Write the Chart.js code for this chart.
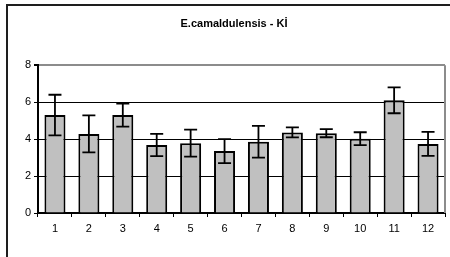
<!DOCTYPE html>
<html>
<head>
<meta charset="utf-8">
<script src="https://cdn.jsdelivr.net/npm/chart.js@4/dist/chart.umd.min.js"></script>
<style>
  html, body { margin: 0; padding: 0; background: #fff; overflow: hidden; }
  #wrap { position: relative; width: 450px; height: 257px; }
  #frame {
    position: absolute; left: 6px; top: 4px; width: 470px; height: 280px;
    border: 2px solid #1e1e1e; pointer-events: none;
  }
  canvas { position: absolute; left: 0; top: 0; }
</style>
</head>
<body>
<div id="wrap">
  <canvas id="grafico" width="450" height="257"></canvas>
  <div id="frame"></div>
</div>
<script>
// dados
const categorias = ['1', '2', '3', '4', '5', '6', '7', '8', '9', '10', '11', '12'];
const medias = [5.3, 4.28, 5.3, 3.68, 3.78, 3.35, 3.86, 4.36, 4.32, 4.02, 6.1, 3.74];
const erros = [1.1, 1.0, 0.62, 0.6, 0.73, 0.65, 0.86, 0.27, 0.22, 0.35, 0.7, 0.65];
const ticksY = [0, 2, 4, 6, 8];

const fonte = "'Liberation Sans', Arial, sans-serif";

// barras de erro desenhadas com a escala y
const barrasErro = {
    id: 'barrasErro',
    afterDatasetsDraw(chart) {
        const ctx = chart.ctx;
        const y = chart.scales.y;
        const meta = chart.getDatasetMeta(0);
        ctx.save();
        ctx.strokeStyle = '#000';
        ctx.lineWidth = 1.8;
        meta.data.forEach((bar, i) => {
            const topo = y.getPixelForValue(medias[i] + erros[i]);
            const base = y.getPixelForValue(medias[i] - erros[i]);
            ctx.beginPath();
            ctx.moveTo(bar.x, topo);
            ctx.lineTo(bar.x, base);
            ctx.moveTo(bar.x - 6.5, topo);
            ctx.lineTo(bar.x + 6.5, topo);
            ctx.moveTo(bar.x - 6.5, base);
            ctx.lineTo(bar.x + 6.5, base);
            ctx.stroke();
        });
        ctx.restore();
    }
};

// borda direita cinzenta da área do gráfico
const bordaDireita = {
    id: 'bordaDireita',
    afterDraw(chart) {
        const a = chart.chartArea;
        const ctx = chart.ctx;
        ctx.save();
        ctx.strokeStyle = '#8c8c8c';
        ctx.lineWidth = 2;
        ctx.beginPath();
        ctx.moveTo(a.right, a.top);
        ctx.lineTo(a.right, a.bottom);
        ctx.stroke();
        ctx.restore();
    }
};

new Chart(document.getElementById('grafico'), {
    type: 'bar',
    data: {
        labels: categorias,
        datasets: [{
            data: medias,
            backgroundColor: '#c0c0c0',
            borderColor: '#000',
            borderWidth: 2,
            barPercentage: 0.62,
            categoryPercentage: 1
        }]
    },
    options: {
        responsive: false,
        animation: false,
        devicePixelRatio: 1,
        layout: { padding: { left: 23, right: 5, top: 0, bottom: 0 } },
        plugins: {
            legend: { display: false },
            tooltip: { enabled: false },
            title: {
                display: true,
                text: 'E.camaldulensis - Kİ',
                color: '#000',
                font: { family: fonte, size: 11, weight: 'bold' },
                padding: { top: 17, bottom: 35 }
            }
        },
        scales: {
            x: {
                afterFit: s => { s.height = 44; },
                grid: {
                    drawOnChartArea: false,
                    drawTicks: true,
                    tickLength: 4,
                    tickColor: '#000',
                    offset: true
                },
                border: { color: '#000', width: 2 },
                ticks: { color: '#000', font: { family: fonte, size: 11 }, padding: 5 }
            },
            y: {
                min: 0,
                max: 8,
                afterFit: s => { s.width = 15; },
                afterBuildTicks: s => { s.ticks = ticksY.map(v => ({ value: v })); },
                grid: {
                    color: c => (c.tick && c.tick.value === 8) ? '#8c8c8c' : '#000',
                    lineWidth: c => (c.tick && c.tick.value === 8) ? 2 : 1,
                    tickLength: 4,
                    tickColor: '#000'
                },
                border: { color: '#000', width: 2 },
                ticks: { color: '#000', font: { family: fonte, size: 11 }, padding: 3 }
            }
        }
    },
    plugins: [barrasErro, bordaDireita]
});
</script>
</body>
</html>
